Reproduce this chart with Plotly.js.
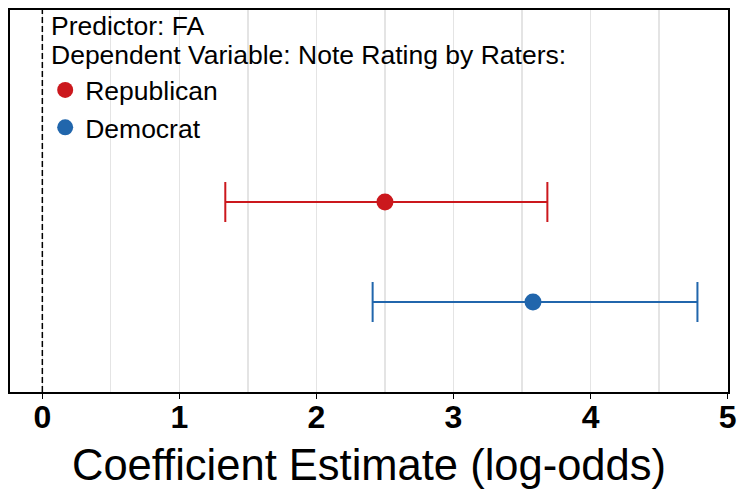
<!DOCTYPE html>
<html>
<head>
<meta charset="utf-8">
<script src="https://cdn.plot.ly/plotly-3.0.1.min.js"></script>
<style>html,body{margin:0;padding:0;background:#fff;}#chart{width:737px;height:489px;}</style>
</head>
<body>
<div id="chart"></div>
<script>
// Data
const groups = ["Republican", "Democrat"];
const estimates = [2.50, 3.58];
const lowerCI = [1.335, 2.41];
const upperCI = [3.685, 4.78];
const colors = ["#cb181d", "#2166ac"];
const xTickVals = [0, 1, 2, 3, 4, 5];
const xTickText = ["0", "1", "2", "3", "4", "5"];
const yCategories = ["Democrat", "Republican"];

const FONT = '"Liberation Sans", Arial, Helvetica, sans-serif';

const traces = groups.map((g, i) => ({
  type: 'scatter',
  mode: 'markers',
  name: g,
  x: [estimates[i]],
  y: [g],
  marker: {color: colors[i], size: 17},
  error_x: {
    type: 'data',
    symmetric: false,
    array: [upperCI[i] - estimates[i]],
    arrayminus: [estimates[i] - lowerCI[i]],
    color: colors[i],
    thickness: 2,
    width: 20
  },
  hoverinfo: 'skip'
}));

const layout = {
  width: 737,
  height: 489,
  margin: {l: 10, r: 9, t: 10, b: 97},
  paper_bgcolor: '#ffffff',
  plot_bgcolor: '#ffffff',
  font: {family: FONT, color: '#000'},
  showlegend: true,
  legend: {
    x: 0.049, y: 0.853, xanchor: 'left', yanchor: 'top',
    bgcolor: 'rgba(0,0,0,0)',
    font: {family: FONT, size: 26.5, color: '#000'},
    itemwidth: 30,
    traceorder: 'normal'
  },
  xaxis: {
    range: [-0.236, 5.003],
    tickmode: 'array',
    tickvals: xTickVals,
    ticktext: xTickText,
    tickfont: {family: FONT, size: 32, color: '#000', weight: 'bold'},
    ticks: 'outside',
    ticklen: 5,
    tickwidth: 1.5,
    tickcolor: '#000',
    ticklabelstandoff: -9,
    showline: true,
    linecolor: '#000',
    linewidth: 2,
    mirror: true,
    showgrid: true,
    gridcolor: '#e4e4e4',
    gridwidth: 1.2,
    minor: {dtick: 0.5, tick0: 0, showgrid: true, gridcolor: '#e4e4e4', gridwidth: 1.2, ticks: ''},
    zeroline: false,
    title: {text: 'Coefficient Estimate (log-odds)', font: {family: FONT, size: 43.5, color: '#000'}, standoff: 22}
  },
  yaxis: {
    type: 'category',
    categoryorder: 'array',
    categoryarray: yCategories,
    range: [-0.9, 2.92],
    showticklabels: false,
    ticks: '',
    showgrid: false,
    zeroline: false,
    showline: true,
    linecolor: '#000',
    linewidth: 2,
    mirror: true
  },
  shapes: [{
    type: 'line', xref: 'x', yref: 'paper',
    x0: 0, x1: 0, y0: 0, y1: 1,
    line: {color: '#000', width: 1.5, dash: '6px,3px'}
  }],
  annotations: [
    {text: 'Predictor: FA', xref: 'paper', yref: 'paper', x: 0.054, y: 0.958,
     xanchor: 'left', yanchor: 'middle', showarrow: false,
     font: {family: FONT, size: 26.5, color: '#000'}},
    {text: 'Dependent Variable: Note Rating by Raters:', xref: 'paper', yref: 'paper', x: 0.054, y: 0.882,
     xanchor: 'left', yanchor: 'middle', showarrow: false,
     font: {family: FONT, size: 26.5, color: '#000'}}
  ]
};

Plotly.newPlot('chart', traces, layout, {displayModeBar: false, staticPlot: true});
</script>
</body>
</html>
